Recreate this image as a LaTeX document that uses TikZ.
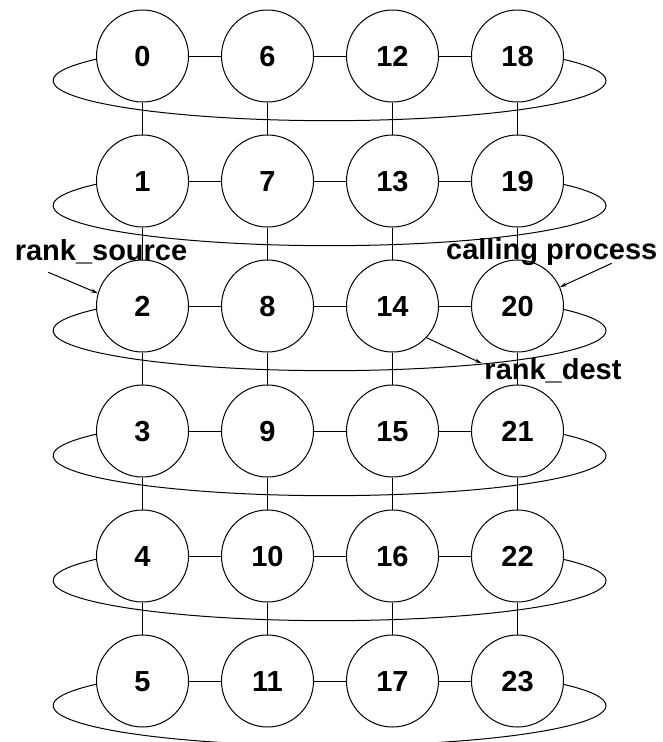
\documentclass[tikz,border=0pt]{standalone}
\usepackage{fontspec}
\setsansfont{Liberation Sans}
\usetikzlibrary{arrows.meta,positioning}
\tikzset{proc/.style={circle,draw,line width=1pt,minimum size=92pt,inner sep=0pt,text height=21pt,text depth=0pt,font=\sffamily\bfseries\fontsize{29}{34}\selectfont},
link/.style={line width=1pt},
ring/.style={line width=1pt},
lbl/.style={inner sep=0pt,anchor=base,font=\sffamily\bfseries\fontsize{29}{34}\selectfont},
pointer/.style={-{Stealth[length=7pt,width=4pt]},line width=1pt}}

\begin{document}
\begin{tikzpicture}[x=1pt,y=1pt,node distance=125pt,on grid]
\useasboundingbox (0,0) rectangle (662,-742);
% first column
\node[proc](p0) at (142.5,-56){0};
\node[proc,below=of p0](p1){1};
\node[proc,below=of p1](p2){2};
\node[proc,below=of p2](p3){3};
\node[proc,below=of p3](p4){4};
\node[proc,below=of p4](p5){5};
% second column
\node[proc,right=of p0](p6){6};
\node[proc,right=of p1](p7){7};
\node[proc,right=of p2](p8){8};
\node[proc,right=of p3](p9){9};
\node[proc,right=of p4](p10){10};
\node[proc,right=of p5](p11){11};
% third column
\node[proc,right=of p6](p12){12};
\node[proc,right=of p7](p13){13};
\node[proc,right=of p8](p14){14};
\node[proc,right=of p9](p15){15};
\node[proc,right=of p10](p16){16};
\node[proc,right=of p11](p17){17};
% fourth column
\node[proc,right=of p12](p18){18};
\node[proc,right=of p13](p19){19};
\node[proc,right=of p14](p20){20};
\node[proc,right=of p15](p21){21};
\node[proc,right=of p16](p22){22};
\node[proc,right=of p17](p23){23};
% rows
\draw[link](p0)--(p6);\draw[link](p6)--(p12);\draw[link](p12)--(p18);
\draw[link](p1)--(p7);\draw[link](p7)--(p13);\draw[link](p13)--(p19);
\draw[link](p2)--(p8);\draw[link](p8)--(p14);\draw[link](p14)--(p20);
\draw[link](p3)--(p9);\draw[link](p9)--(p15);\draw[link](p15)--(p21);
\draw[link](p4)--(p10);\draw[link](p10)--(p16);\draw[link](p16)--(p22);
\draw[link](p5)--(p11);\draw[link](p11)--(p17);\draw[link](p17)--(p23);
% columns
\draw[link](p0)--(p1);\draw[link](p1)--(p2);\draw[link](p2)--(p3);\draw[link](p3)--(p4);\draw[link](p4)--(p5);
\draw[link](p6)--(p7);\draw[link](p7)--(p8);\draw[link](p8)--(p9);\draw[link](p9)--(p10);\draw[link](p10)--(p11);
\draw[link](p12)--(p13);\draw[link](p13)--(p14);\draw[link](p14)--(p15);\draw[link](p15)--(p16);\draw[link](p16)--(p17);
\draw[link](p18)--(p19);\draw[link](p19)--(p20);\draw[link](p20)--(p21);\draw[link](p21)--(p22);\draw[link](p22)--(p23);
% wrap-around links
\draw[ring](p0.184) arc[start angle=147.6,end angle=392.4,x radius=276.5pt,y radius=40pt];
\draw[ring](p1.184) arc[start angle=147.6,end angle=392.4,x radius=276.5pt,y radius=40pt];
\draw[ring](p2.184) arc[start angle=147.6,end angle=392.4,x radius=276.5pt,y radius=40pt];
\draw[ring](p3.184) arc[start angle=147.6,end angle=392.4,x radius=276.5pt,y radius=40pt];
\draw[ring](p4.184) arc[start angle=147.6,end angle=392.4,x radius=276.5pt,y radius=40pt];
\draw[ring](p5.184) arc[start angle=147.6,end angle=392.4,x radius=276.5pt,y radius=40pt];
% labels
\node[lbl](lsrc) at (101,-260){rank\_source};
\node[lbl](lcall) at (551.7,-259.3){calling process};
\node[lbl](ldest) at (553,-379.3){rank\_dest};
\coordinate (srctail) at (48.3,-272.3);
\coordinate (calltail) at (611.7,-263.3);
\coordinate (desttip) at (481.7,-363.3);
\draw[pointer](srctail)--(p2.164);
\draw[pointer](calltail)--(p20.24);
\draw[pointer](p14.-43)--(desttip);
\end{tikzpicture}
\end{document}
